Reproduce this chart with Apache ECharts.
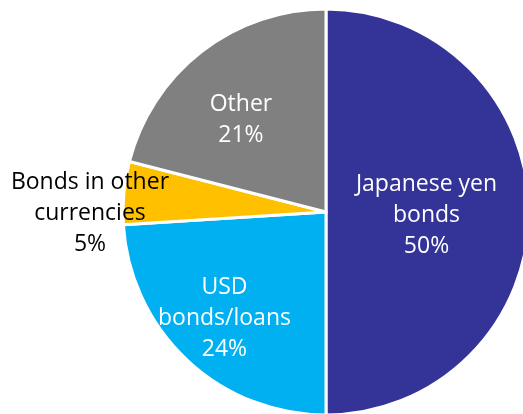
<!DOCTYPE html>
<html><head><meta charset="utf-8">
<script src="https://cdn.jsdelivr.net/npm/echarts@6/dist/echarts.min.js"></script>
<style>html,body{margin:0;padding:0;background:#fff}#c{width:523px;height:414px}</style>
</head><body><div id="c"></div>
<script>
const categories = ['Japanese yen\nbonds', 'USD\nbonds/loans', 'Bonds in other\ncurrencies', 'Other'];
const values = [50, 24, 5, 21];
const colors = ['#343397', '#00B0F0', '#FFC000', '#808080'];
const labelColors = ['#ffffff', '#ffffff', '#000000', '#ffffff'];
const labelOffsets = [[-4, 3], [-30, 30], [-132, 11], [-21, -9]];

const chart = echarts.init(document.getElementById('c'));
chart.setOption({
  animation: false,
  series: [{
    type: 'pie',
    center: [326, 212],
    radius: 203,
    startAngle: 90,
    clockwise: true,
    avoidLabelOverlap: false,
    itemStyle: { borderColor: '#ffffff', borderWidth: 3 },
    label: {
      show: true,
      position: 'inside',
      fontFamily: 'Open Sans',
      fontSize: 23,
      lineHeight: 31,
      align: 'center',
      formatter: p => p.name + '\n' + p.value + '%'
    },
    labelLine: { show: false },
    data: categories.map((c, i) => ({
      name: c,
      value: values[i],
      itemStyle: { color: colors[i] },
      label: { color: labelColors[i], offset: labelOffsets[i] }
    }))
  }]
});
</script></body></html>
